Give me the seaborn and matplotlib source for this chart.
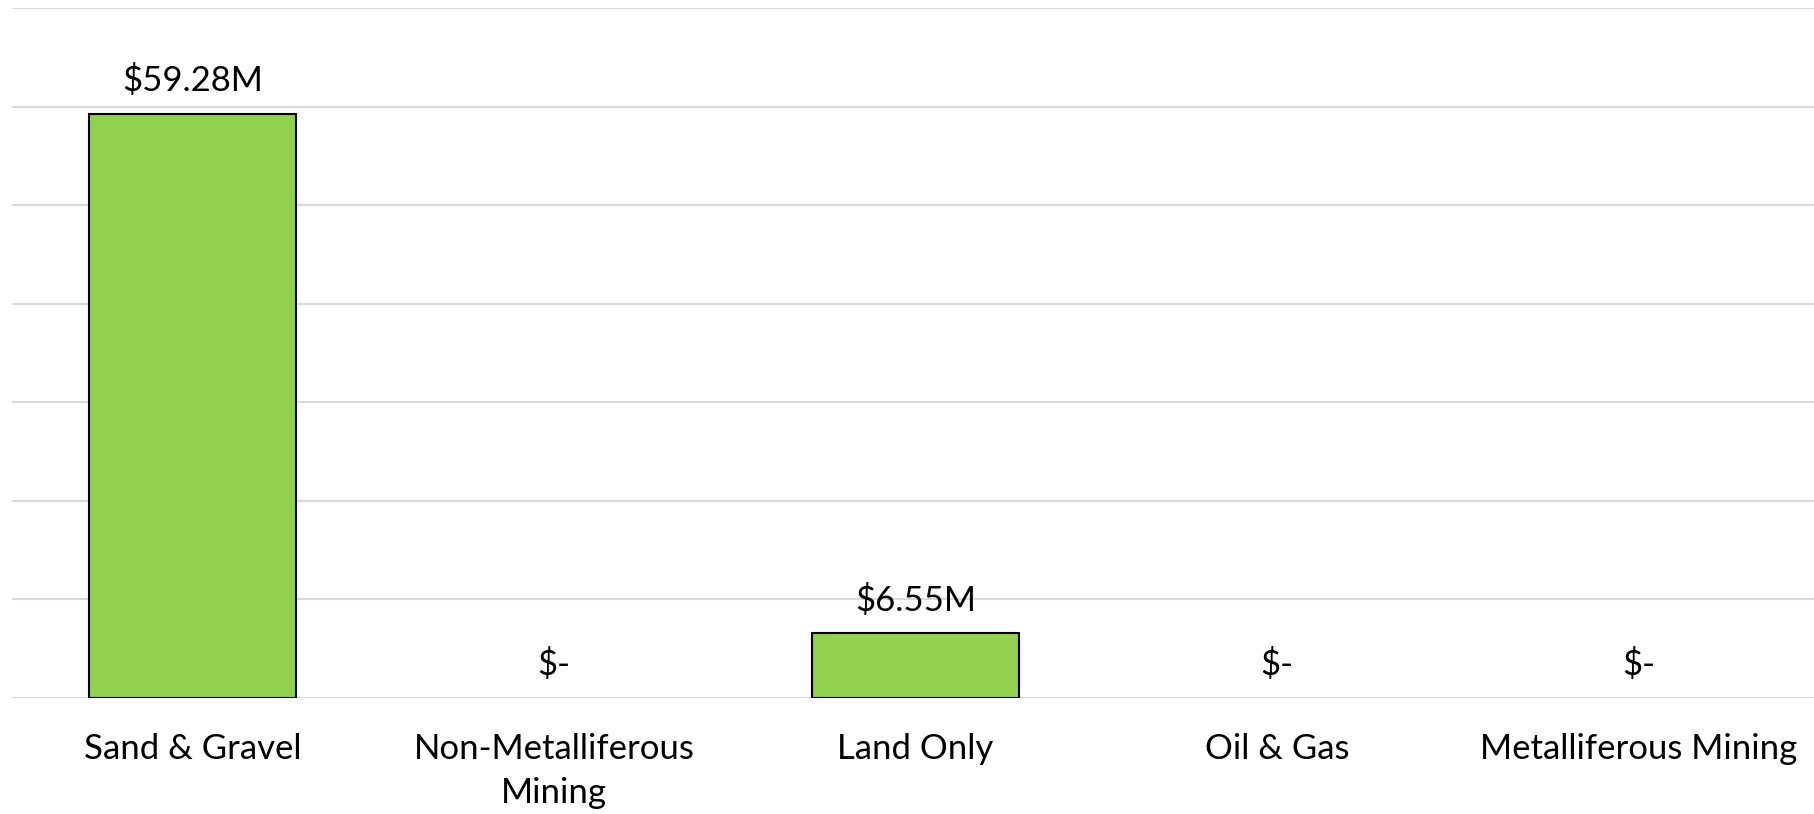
import pandas as pd
import matplotlib.pyplot as plt
import seaborn as sns

# Datos del gráfico (millones de dólares)
categorias = ['Sand & Gravel', 'Non-Metalliferous\nMining', 'Land Only',
              'Oil & Gas', 'Metalliferous Mining']
valores = [59.28, 0.0, 6.55, 0.0, 0.0]
etiquetas = ['$59.28M', '$-', '$6.55M', '$-', '$-']

df = pd.DataFrame({'categoria': categorias, 'valor': valores})

sns.set_style('white')
plt.rcParams['font.family'] = ['Lato', 'DejaVu Sans']

fig = plt.figure(figsize=(18.14, 8.14), dpi=100)
ax = fig.add_axes([11.75 / 1814, 116 / 814, 1807.5 / 1814, 690 / 814])

sns.barplot(data=df, x='categoria', y='valor', color='#92d050',
            saturation=1, width=0.573, edgecolor='black', linewidth=1.5,
            ax=ax, zorder=3)

# sin borde en las barras de valor cero
for p in ax.patches:
    if p.get_height() == 0:
        p.set_linewidth(0)

ax.set_xlim(-0.5, 4.5)
ax.set_ylim(0, 70)
ax.set_yticks(range(0, 71, 10))
ax.yaxis.grid(True, color='#d9d9d9', linewidth=1.5, zorder=0)
ax.set_axisbelow(True)
ax.tick_params(axis='y', left=False, labelleft=False)
ax.tick_params(axis='x', bottom=False, labelsize=25, colors='black', pad=22)
for lbl in ax.get_xticklabels():
    lbl.set_linespacing(1.45)
for s in ax.spines.values():
    s.set_visible(False)
ax.set_xlabel('')
ax.set_ylabel('')

# Etiquetas de valor sobre cada barra
for i, (v, t) in enumerate(zip(valores, etiquetas)):
    ax.annotate(t, (i, v), xytext=(0, 24), textcoords='offset points',
                ha='center', va='center', fontsize=25, color='black')

fig.savefig('out.png', dpi=100)
